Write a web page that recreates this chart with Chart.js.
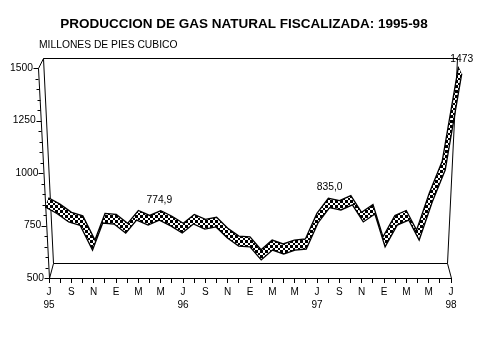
<!DOCTYPE html>
<html>
<head>
<meta charset="utf-8">
<title>Produccion de gas natural</title>
<script src="https://cdn.jsdelivr.net/npm/chart.js@4/dist/chart.umd.min.js"></script>
<style>
html, body { margin: 0; padding: 0; background: #fff; }
canvas { display: block; }
</style>
</head>
<body>
<canvas id="gasChart" width="479" height="359"></canvas>
<script>
const months = [
    'J', 'A', 'S', 'O', 'N', 'D', 'E', 'F', 'M', 'A', 'M', 'J',
    'J', 'A', 'S', 'O', 'N', 'D', 'E', 'F', 'M', 'A', 'M', 'J',
    'J', 'A', 'S', 'O', 'N', 'D', 'E', 'F', 'M', 'A', 'M', 'J',
    'J'
];
const years = ['95', '', '', '', '', '', '', '', '', '', '', '',
    '96', '', '', '', '', '', '', '', '', '', '', '',
    '97', '', '', '', '', '', '', '', '', '', '', '',
    '98'];
const produccion = [
    838, 807, 767, 750, 633, 762, 757, 714, 776, 752, 774.9, 748,
    714, 757, 733, 743, 690, 652, 648, 586, 633, 614, 633, 638,
    762, 835, 824, 848, 767, 805, 648, 752, 776, 681, 862, 1014,
    1473
];
const labelledPoints = [10, 25, 36];
const labelledTexts = ['774,9', '835,0', '1473'];
const majorTicks = [500, 750, 1000, 1250, 1500];

const FONT = '10.3px "Liberation Sans", Arial, sans-serif';

// the original is a fake 3d chart, x spreads out with height and the back wall is smaller
const CENTER_X = 250;
const SPREAD = 0.055;
const DEPTH_SHRINK = 0.022;
const RIBBON_DEPTH = 0.7;

function project(x, y, value, depth) {
    const t = (value - 500) / 1000;
    const s = (1 + SPREAD * t) * (1 - DEPTH_SHRINK * depth);
    return { x: CENTER_X + (x - CENTER_X) * s, y: y - depth * (15 - 5 * t) };
}

function checkerPattern() {
    const tile = document.createElement('canvas');
    tile.width = 5;
    tile.height = 5;
    const c = tile.getContext('2d');
    c.fillStyle = '#fff';
    c.fillRect(0, 0, 5, 5);
    c.fillStyle = '#000';
    c.fillRect(0, 0, 3, 3);
    c.fillRect(3, 3, 2, 2);
    return tile;
}

function line(ctx, a, b) {
    ctx.beginPath();
    ctx.moveTo(Math.round(a.x) + 0.5, Math.round(a.y) + 0.5);
    ctx.lineTo(Math.round(b.x) + 0.5, Math.round(b.y) + 0.5);
    ctx.stroke();
}

const fakeDepth = {
    id: 'fakeDepth',
    // moves the points the scales gave us onto the slanted planes
    afterDatasetsUpdate(chart) {
        const yScale = chart.scales.y;
        [0, 1].forEach(i => {
            const depth = i === 0 ? 0 : RIBBON_DEPTH;
            chart.getDatasetMeta(i).data.forEach((pt, n) => {
                const p = project(pt.x, yScale.getPixelForValue(produccion[n]), produccion[n], depth);
                pt.x = p.x;
                pt.y = p.y;
            });
        });
    },
    beforeDatasetsDraw(chart) {
        const { ctx, scales } = chart;
        const x0 = scales.x.getPixelForValue(0);
        const x1 = scales.x.getPixelForValue(months.length - 1);
        const yb = scales.y.getPixelForValue(500);
        const yt = scales.y.getPixelForValue(1500);

        ctx.save();
        ctx.strokeStyle = '#000';
        ctx.lineWidth = 1;

        const backBL = project(x0, yb, 500, 1);
        const backTL = project(x0, yt, 1500, 1);
        const backBR = project(x1, yb, 500, 1);
        const backTR = project(x1, yt, 1500, 1);
        const frontBL = project(x0, yb, 500, 0);
        const frontTL = project(x0, yt, 1500, 0);
        line(ctx, backBL, backBR);
        line(ctx, backTL, backTR);
        line(ctx, backBL, backTL);
        line(ctx, backBR, backTR);
        line(ctx, frontBL, backBL);
        line(ctx, frontTL, backTL);
        line(ctx, { x: x1, y: yb }, backBR);
        line(ctx, frontBL, frontTL);

        // y axis ticks follow the slanted front edge
        ctx.font = FONT;
        ctx.fillStyle = '#000';
        ctx.textAlign = 'right';
        ctx.textBaseline = 'middle';
        scales.y.ticks.forEach(tick => {
            const y = scales.y.getPixelForValue(tick.value);
            const p = project(x0, y, tick.value, 0);
            const major = majorTicks.includes(tick.value);
            line(ctx, { x: p.x - (major ? 5 : 3), y: p.y }, p);
            if (major) ctx.fillText(String(tick.value), p.x - 5, p.y);
        });

        // ribbon fill between front and back edge
        const front = chart.getDatasetMeta(0).data;
        const back = chart.getDatasetMeta(1).data;
        ctx.fillStyle = ctx.createPattern(checkerPattern(), 'repeat');
        ctx.beginPath();
        front.forEach((pt, n) => n ? ctx.lineTo(pt.x, pt.y) : ctx.moveTo(pt.x, pt.y));
        for (let n = back.length - 1; n >= 0; n--) ctx.lineTo(back[n].x, back[n].y);
        ctx.closePath();
        ctx.fill();
        ctx.restore();
    },
    afterDraw(chart) {
        const { ctx } = chart;
        const front = chart.getDatasetMeta(0).data;
        ctx.save();
        ctx.fillStyle = '#000';
        ctx.textBaseline = 'middle';

        ctx.font = 'bold 13.5px "Liberation Sans", Arial, sans-serif';
        ctx.textAlign = 'center';
        ctx.fillText('PRODUCCION DE GAS NATURAL FISCALIZADA: 1995-98', 244, 24);

        ctx.font = FONT;
        ctx.textAlign = 'left';
        ctx.fillText('MILLONES DE PIES CUBICO', 39, 45);

        ctx.textAlign = 'center';
        labelledPoints.forEach((idx, n) => {
            const pt = front[idx];
            ctx.fillText(labelledTexts[n], pt.x, idx === 36 ? pt.y - 15 : pt.y - 20);
        });
        ctx.restore();
    }
};

new Chart(document.getElementById('gasChart'), {
    type: 'line',
    data: {
        labels: months,
        datasets: [
            { label: 'frente', data: produccion, borderColor: '#000', borderWidth: 1.3, pointRadius: 0, tension: 0, fill: false, clip: false },
            { label: 'fondo', data: produccion, borderColor: '#000', borderWidth: 1.3, pointRadius: 0, tension: 0, fill: false, clip: false }
        ]
    },
    options: {
        responsive: false,
        animation: false,
        events: [],
        layout: { padding: { left: 49, right: 28, top: 68, bottom: 0 } },
        plugins: {
            legend: { display: false },
            title: { display: false },
            tooltip: { enabled: false }
        },
        scales: {
            x: {
                offset: false,
                afterFit: scale => { scale.height = 81; },
                grid: { display: true, drawOnChartArea: false, tickLength: 5, tickColor: '#000' },
                border: { display: true, color: '#000', width: 1 },
                ticks: {
                    autoSkip: false,
                    maxRotation: 0,
                    padding: 3,
                    color: '#000',
                    font: { family: '"Liberation Sans", Arial, sans-serif', size: 10, lineHeight: 1.3 },
                    callback: (value, index) => index % 2 === 0 ? [months[index], years[index]] : ''
                }
            },
            y: {
                display: false,
                min: 500,
                max: 1500,
                // ticks.display off or the scale skips most of the 50 steps
                ticks: { stepSize: 50, display: false }
            }
        }
    },
    plugins: [fakeDepth]
});
</script>
</body>
</html>
